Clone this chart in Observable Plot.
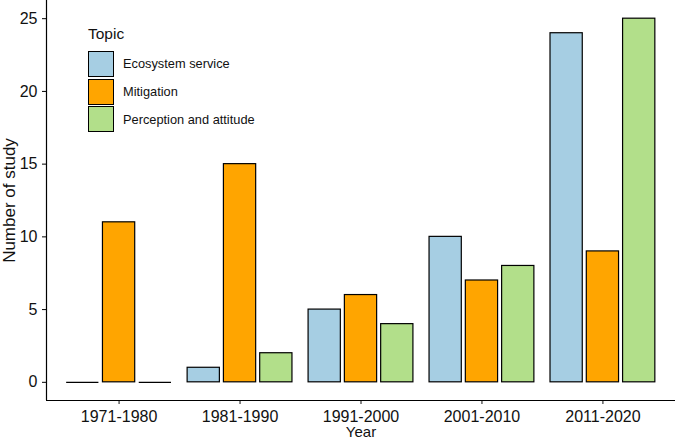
<!DOCTYPE html>
<html>
<head>
<meta charset="utf-8">
<script src="https://cdn.jsdelivr.net/npm/d3@7"></script>
<script src="https://cdn.jsdelivr.net/npm/@observablehq/plot@0.6"></script>
<style>
  body { margin: 0; background: white; }
  #wrap { position: relative; width: 675px; height: 441px; font-family: "Liberation Sans", Arial, sans-serif; }
  #legend { position: absolute; left: 88px; top: 25px; color: #111; }
  #legend .title { font-size: 15.5px; line-height: 18px; margin-bottom: 7px; }
  #legend .row { display: flex; align-items: center; height: 27.8px; }
  #legend .key { width: 26px; height: 26px; border: 1.2px solid #000; box-sizing: border-box; margin-right: 9px; }
  #legend .lab { font-size: 12.8px; }
</style>
</head>
<body>
<div id="wrap"><div id="chart"></div><div id="legend"></div></div>
<script>
const years = ["1971-1980", "1981-1990", "1991-2000", "2001-2010", "2011-2020"];
const topics = ["Ecosystem service", "Mitigation", "Perception and attitude"];
const ecosystemService = [0, 1, 5, 10, 24];
const mitigation = [11, 15, 6, 7, 9];
const perceptionAttitude = [0, 2, 4, 8, 25];
const topicColors = ["#a6cee3", "#ffa500", "#b2df8a"];
const yTicks = [0, 5, 10, 15, 20, 25];

const seriesValues = [ecosystemService, mitigation, perceptionAttitude];
const dodgeWidth = 0.9, barWidth = 0.8;
const step = dodgeWidth / topics.length, half = barWidth / topics.length / 2;

const data = years.flatMap((yr, i) => topics.map((t, j) => {
  const center = (i + 1) + (j - (topics.length - 1) / 2) * step;
  return { year: yr, topic: t, value: seriesValues[j][i], x1: center - half, x2: center + half };
}));
const zeros = data.filter(d => d.value === 0);

const chart = Plot.plot({
  width: 675,
  height: 441,
  marginLeft: 46,
  marginRight: 0,
  marginTop: 0,
  marginBottom: 41,
  style: { fontFamily: "'Liberation Sans', Arial, sans-serif", fontSize: "16px", color: "#111", background: "white", overflow: "visible" },
  x: { type: "linear", domain: [0.4, 5.6], axis: null },
  y: { domain: [-1.25, 26.25], axis: null },
  color: { domain: topics, range: topicColors },
  marks: [
    Plot.rectY(data, { x1: "x1", x2: "x2", y1: 0, y2: "value", fill: "topic", stroke: "black", strokeWidth: 1.2 }),
    Plot.ruleY(zeros, { x1: "x1", x2: "x2", y: 0, stroke: "black", strokeWidth: 1.2 }),
    Plot.axisY({ ticks: yTicks, tickSize: 4, tickPadding: 5, label: null, fontSize: 16, stroke: "black", strokeWidth: 1 }),
    Plot.axisX({ ticks: [1, 2, 3, 4, 5], tickFormat: d => years[d - 1], tickSize: 4, tickPadding: 6, label: null, fontSize: 16 }),
    Plot.ruleX([0.4], { stroke: "black", strokeWidth: 1.2 }),
    Plot.ruleY([-1.25], { stroke: "black", strokeWidth: 1.2 }),
    Plot.text(["Year"], { frameAnchor: "bottom", dy: 32, textAnchor: "middle", lineAnchor: "middle", fontSize: 15, fill: "#111" }),
    Plot.text(["Number of study"], { frameAnchor: "left", dx: -36.5, rotate: -90, textAnchor: "middle", lineAnchor: "middle", fontSize: 17, fill: "#111" })
  ]
});
document.getElementById("chart").appendChild(chart);

const legend = document.getElementById("legend");
legend.innerHTML = `<div class="title">Topic</div>` + topics.map((t, j) =>
  `<div class="row"><div class="key" style="background:${topicColors[j]}"></div><div class="lab">${t}</div></div>`).join("");
</script>
</body>
</html>
